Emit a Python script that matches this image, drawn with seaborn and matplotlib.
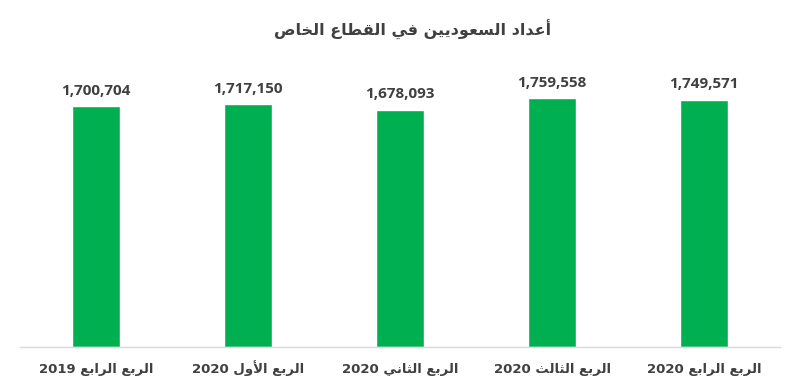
import matplotlib
matplotlib.use("Agg")
import matplotlib.pyplot as plt
import seaborn as sns

# Data
quarters = ["الربع الرابع 2019", "الربع الأول 2020", "الربع الثاني 2020",
            "الربع الثالث 2020", "الربع الرابع 2020"]
saudis = [1700704, 1717150, 1678093, 1759558, 1749571]
title = "أعداد السعوديين في القطاع الخاص"

# matplotlib does no Arabic shaping, so map letters to presentation forms
FORMS = {
    'ء': (0xFE80, 1), 'آ': (0xFE81, 2), 'أ': (0xFE83, 2), 'ؤ': (0xFE85, 2), 'إ': (0xFE87, 2),
    'ئ': (0xFE89, 4), 'ا': (0xFE8D, 2), 'ب': (0xFE8F, 4), 'ة': (0xFE93, 2), 'ت': (0xFE95, 4),
    'ث': (0xFE99, 4), 'ج': (0xFE9D, 4), 'ح': (0xFEA1, 4), 'خ': (0xFEA5, 4), 'د': (0xFEA9, 2),
    'ذ': (0xFEAB, 2), 'ر': (0xFEAD, 2), 'ز': (0xFEAF, 2), 'س': (0xFEB1, 4), 'ش': (0xFEB5, 4),
    'ص': (0xFEB9, 4), 'ض': (0xFEBD, 4), 'ط': (0xFEC1, 4), 'ظ': (0xFEC5, 4), 'ع': (0xFEC9, 4),
    'غ': (0xFECD, 4), 'ف': (0xFED1, 4), 'ق': (0xFED5, 4), 'ك': (0xFED9, 4), 'ل': (0xFEDD, 4),
    'م': (0xFEE1, 4), 'ن': (0xFEE5, 4), 'ه': (0xFEE9, 4), 'و': (0xFEED, 2), 'ى': (0xFEEF, 2),
    'ي': (0xFEF1, 4),
}
LAM_ALEF = {'آ': 0xFEF5, 'أ': 0xFEF7, 'إ': 0xFEF9, 'ا': 0xFEFB}


def shape_word(w):
    out = []
    prev_joins = False
    i = 0
    while i < len(w):
        c = w[i]
        if c == 'ل' and i + 1 < len(w) and w[i + 1] in LAM_ALEF:
            out.append(chr(LAM_ALEF[w[i + 1]] + (1 if prev_joins else 0)))
            prev_joins = False
            i += 2
            continue
        if c not in FORMS:
            out.append(c)
            prev_joins = False
            i += 1
            continue
        base, n = FORMS[c]
        nxt = w[i + 1] if i + 1 < len(w) else ''
        pj = prev_joins and n > 1
        nj = n == 4 and nxt in FORMS and FORMS[nxt][1] > 1
        if pj and nj:
            code = base + 3
        elif pj:
            code = base + 1
        elif nj:
            code = base + 2
        else:
            code = base
        out.append(chr(code))
        prev_joins = n == 4
        i += 1
    return ''.join(reversed(out))


def rtl(s):
    words = s.split(' ')
    return ' '.join(shape_word(w) if any(ch in FORMS for ch in w) else w
                    for w in reversed(words))


labels = [rtl(q) for q in quarters]

sns.set_style("white")
plt.rcParams['font.family'] = ['DejaVu Sans']

fig = plt.figure(figsize=(8, 3.88), dpi=100)
ax = fig.add_axes([0.025, 0.1057, 0.95, 0.729])

sns.barplot(x=labels, y=saudis, color='#00B050', saturation=1, width=0.31, ax=ax)

ax.set_ylim(0, 2000000)
ax.set_xlim(-0.5, 4.5)
ax.set_yticks([])
ax.set_ylabel('')
for s in ['top', 'left', 'right']:
    ax.spines[s].set_visible(False)
ax.spines['bottom'].set_color('#d9d9d9')
ax.spines['bottom'].set_linewidth(1)
ax.tick_params(axis='x', length=0, pad=19)
for t in ax.get_xticklabels():
    t.set_fontsize(9.5)
    t.set_fontweight('bold')
    t.set_color('#404040')
    t.set_verticalalignment('baseline')

ax.bar_label(ax.containers[0], labels=[f"{v:,}" for v in saudis], padding=6,
             fontsize=11, fontweight='bold', color='#404040', family='Open Sans')

fig.text(0.516, 0.923, rtl(title), ha='center', va='center', fontsize=11.5,
         fontweight='bold', color='#404040')

fig.savefig("out.png", dpi=100)
